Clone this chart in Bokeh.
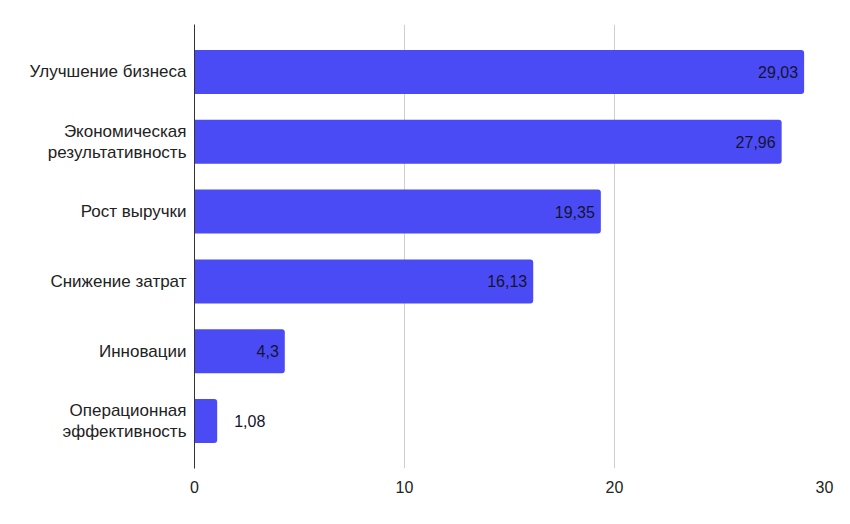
from bokeh.plotting import figure
from bokeh.models import FactorRange, Range1d, ColumnDataSource, FixedTicker
from bokeh.core.properties import value
from bokeh.embed import file_html
from bokeh.resources import INLINE

categories = ["Улучшение бизнеса", "Экономическая\nрезультативность", "Рост выручки",
              "Снижение затрат", "Инновации", "Операционная\nэффективность"]
values = [29.03, 27.96, 19.35, 16.13, 4.3, 1.08]
x_ticks = [0, 10, 20, 30]

FONT = "Liberation Sans"
AXFONT = "Liberation Sans"
BAR = "#4B4BF6"

labels = [str(v).replace(".", ",") for v in values]
inside = [v >= 3 for v in values]

src_bar = ColumnDataSource(dict(cat=categories, val=values))
src_in = ColumnDataSource(dict(
    cat=[c for c, i in zip(categories, inside) if i],
    val=[v for v, i in zip(values, inside) if i],
    lab=[l for l, i in zip(labels, inside) if i]))
src_out = ColumnDataSource(dict(
    cat=[c for c, i in zip(categories, inside) if not i],
    val=[v for v, i in zip(values, inside) if not i],
    lab=[l for l, i in zip(labels, inside) if not i]))

yr = FactorRange(factors=list(reversed(categories)), range_padding=0.18,
                 range_padding_units="absolute")
p = figure(width=842, height=516, y_range=yr, x_range=Range1d(0, 30),
           output_backend="svg", toolbar_location=None,
           min_border_left=194, min_border_right=18, min_border_top=24,
           min_border_bottom=48)
p.outline_line_color = None
p.background_fill_color = "white"

p.hbar(y="cat", right="val", left=0, height=0.63, source=src_bar,
       fill_color=BAR, line_color=None, border_radius=(0, 3, 3, 0))

p.text(x="val", y="cat", text="lab", source=src_in, text_align="right",
       text_baseline="middle", x_offset=-6, text_font=value(FONT),
       text_font_size="16px", text_color="#14142e")
p.text(x="val", y="cat", text="lab", source=src_out, text_align="left",
       text_baseline="middle", x_offset=17, text_font=value(FONT),
       text_font_size="16px", text_color="#14142e")

p.xaxis.ticker = FixedTicker(ticks=x_ticks)
p.xgrid.ticker = FixedTicker(ticks=x_ticks)
p.xgrid.grid_line_color = "#cfcfcf"
p.ygrid.grid_line_color = None
p.xaxis.axis_line_color = None
p.xaxis.major_tick_line_color = None
p.xaxis.minor_tick_line_color = None
p.xaxis.major_label_standoff = 6
p.xaxis.major_label_text_font = AXFONT
p.xaxis.major_label_text_font_size = "16px"
p.xaxis.major_label_text_color = "#222222"

p.yaxis.axis_line_color = "#333333"
p.yaxis.axis_line_width = 1
p.yaxis.major_tick_line_color = None
p.yaxis.minor_tick_line_color = None
p.yaxis.major_label_standoff = 2
p.yaxis.major_label_text_font = AXFONT
p.yaxis.major_label_text_font_size = "17px"
p.yaxis.major_label_text_color = "#222222"
p.yaxis.major_label_text_align = "right"
p.yaxis.major_label_text_line_height = 1.1

open("out.html", "w").write(file_html(p, INLINE))
